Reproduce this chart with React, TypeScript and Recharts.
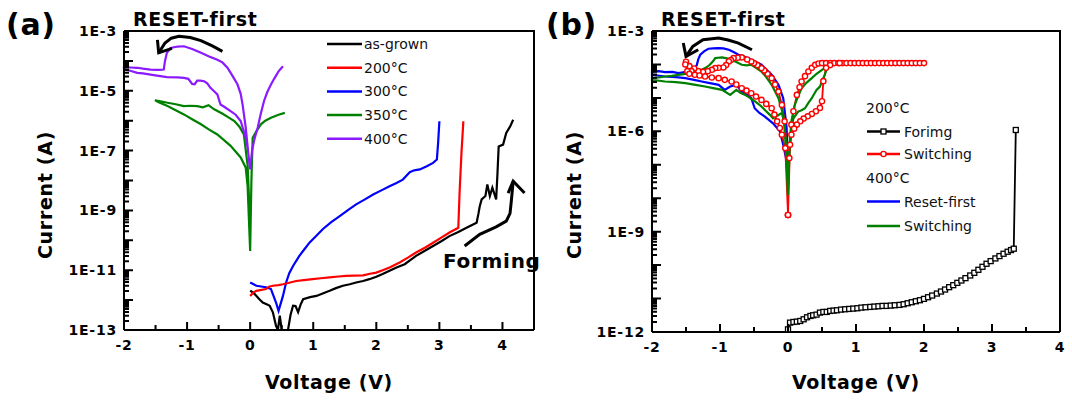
import { LineChart, Line, XAxis, YAxis } from 'recharts';

// all series: [voltage (V), log10 of current (A)]

// ---- panel (a) ----
const asGrown = [
  [0, -11.69], [0.05, -11.75], [0.1, -11.86], [0.15, -11.98], [0.2, -12.08], [0.27, -12.15], [0.31, -12.19],
  [0.36, -12.41], [0.41, -12.86], [0.44, -13], [0.47, -12.52], [0.5, -13], [0.6, -13], [0.64, -12.5],
  [0.68, -12.19], [0.72, -12.2], [0.76, -12.4], [0.8, -12.15], [0.84, -11.97], [0.95, -11.9], [1.05, -11.86],
  [1.15, -11.78], [1.26, -11.69], [1.36, -11.6], [1.47, -11.52], [1.58, -11.47], [1.68, -11.41], [1.79, -11.36],
  [1.89, -11.3], [2.0, -11.22], [2.1, -11.13], [2.21, -11.02], [2.32, -10.91], [2.45, -10.8], [2.63, -10.52],
  [2.77, -10.35], [2.9, -10.19], [3.03, -10.03], [3.16, -9.86], [3.3, -9.72], [3.43, -9.58], [3.59, -9.41],
  [3.62, -9.1], [3.64, -8.86], [3.67, -8.63], [3.73, -8.52], [3.76, -8.13], [3.8, -8.52], [3.84, -8.24],
  [3.9, -8.63], [3.92, -7.8], [3.94, -6.86], [4.01, -6.8], [4.06, -6.41], [4.12, -6.2], [4.17, -5.97],
];

const ann200 = [
  [0, -11.86], [0.05, -11.75], [0.1, -11.69], [0.18, -11.66], [0.25, -11.63], [0.3, -11.55], [0.36, -11.52],
  [0.45, -11.5], [0.52, -11.47], [0.62, -11.42], [0.73, -11.36], [0.85, -11.33], [0.99, -11.3], [1.12, -11.27],
  [1.26, -11.24], [1.4, -11.21], [1.52, -11.19], [1.65, -11.18], [1.79, -11.17], [1.9, -11.12], [2.0, -11.08],
  [2.1, -11.0], [2.21, -10.91], [2.37, -10.74], [2.5, -10.58], [2.63, -10.41], [2.77, -10.25], [2.9, -10.08],
  [3.03, -9.91], [3.16, -9.74], [3.3, -9.58], [3.32, -8.41], [3.35, -7.08], [3.38, -6.02],
];

const ann300 = [
  [0, -11.41], [0.1, -11.52], [0.25, -11.57], [0.33, -11.63], [0.41, -12.08], [0.45, -12.36], [0.52, -11.86],
  [0.57, -11.41], [0.62, -11.1], [0.68, -10.86], [0.78, -10.52], [0.86, -10.3], [0.94, -10.08], [1.05, -9.85],
  [1.15, -9.63], [1.28, -9.4], [1.42, -9.19], [1.55, -8.99], [1.68, -8.8], [1.82, -8.63], [1.95, -8.47],
  [2.08, -8.33], [2.21, -8.19], [2.32, -8.08], [2.42, -7.97], [2.53, -7.72], [2.6, -7.66], [2.69, -7.63],
  [2.8, -7.52], [2.9, -7.41], [2.96, -7.3], [2.98, -6.74], [3.0, -6.02],
];

const ann350 = [
  [0.55, -5.74], [0.45, -5.8], [0.33, -5.9], [0.24, -6.0], [0.17, -6.12], [0.1, -6.35], [0.04, -6.57],
  [0.02, -8], [0, -10.36], [-0.04, -8.2], [-0.07, -7.57], [-0.15, -7.23], [-0.31, -6.84], [-0.52, -6.46],
  [-0.65, -6.3], [-0.78, -6.12], [-0.92, -5.95], [-1.05, -5.79], [-1.18, -5.65], [-1.31, -5.51], [-1.45, -5.38],
  [-1.51, -5.32], [-1.42, -5.35], [-1.31, -5.4], [-1.18, -5.45], [-1.05, -5.51], [-0.95, -5.5], [-0.84, -5.51],
  [-0.75, -5.55], [-0.66, -5.48], [-0.57, -5.62], [-0.45, -5.75], [-0.35, -5.88], [-0.25, -6.01], [-0.17, -6.2],
  [-0.1, -6.46], [-0.04, -7.5], [0, -9.5],
];

const ann400 = [
  [0.52, -4.18], [0.45, -4.35], [0.38, -4.6], [0.33, -4.79], [0.27, -5.05], [0.22, -5.34], [0.17, -5.75],
  [0.12, -6.23], [0.07, -6.6], [0.03, -7.0], [0, -7.63], [-0.04, -6.9], [-0.07, -6.57], [-0.15, -6.01],
  [-0.23, -5.8], [-0.31, -5.68], [-0.4, -5.55], [-0.47, -5.46], [-0.52, -5.12], [-0.58, -5.0], [-0.63, -4.9],
  [-0.68, -4.75], [-0.73, -4.68], [-0.79, -4.66], [-0.84, -4.66], [-0.88, -4.78], [-0.92, -4.77], [-0.98, -4.6],
  [-1.05, -4.57], [-1.15, -4.55], [-1.32, -4.54], [-1.45, -4.5], [-1.58, -4.46], [-1.7, -4.42], [-1.79, -4.4],
  [-1.9, -4.33], [-2, -4.29], [-2, -4.21], [-1.9, -4.22], [-1.79, -4.23], [-1.7, -4.26], [-1.58, -4.29],
  [-1.45, -4.3], [-1.37, -4.29], [-1.35, -4.0], [-1.32, -3.73], [-1.26, -3.57], [-1.15, -3.52], [-1.05, -3.51],
  [-0.92, -3.6], [-0.78, -3.73], [-0.65, -3.85], [-0.52, -3.96], [-0.44, -4.05], [-0.36, -4.23], [-0.28, -4.5],
  [-0.2, -4.79], [-0.15, -5.1], [-0.12, -5.46], [-0.07, -6.23], [-0.02, -7.3], [0, -7.63],
];

const arrowA = [[-0.44, -3.68], [-0.6, -3.5], [-0.78, -3.32], [-0.95, -3.22], [-1.13, -3.18], [-1.25, -3.24], [-1.35, -3.4], [-1.45, -3.73]];
const arrowAHead = [[-1.47, -3.3], [-1.45, -3.73], [-1.24, -3.58]];
const arrowForm = [[3.4, -10.19], [3.64, -9.8], [3.9, -9.55], [4.06, -9.36], [4.12, -9.1], [4.14, -8.7], [4.17, -8.02]];
const arrowFormHead = [[4.09, -8.42], [4.17, -8.02], [4.35, -8.42]];

// ---- panel (b) ----
const forming200 = [
  [0, -11.92], [0.03, -11.72], [0.08, -11.7], [0.13, -11.69], [0.18, -11.67], [0.23, -11.62], [0.28, -11.56],
  [0.33, -11.52], [0.37, -11.5], [0.42, -11.48], [0.47, -11.42], [0.52, -11.4], [0.57, -11.4], [0.62, -11.37],
  [0.67, -11.36], [0.72, -11.35], [0.78, -11.33], [0.84, -11.32], [0.9, -11.31], [0.96, -11.3], [1.02, -11.29],
  [1.08, -11.27], [1.14, -11.26], [1.21, -11.25], [1.27, -11.24], [1.33, -11.23], [1.39, -11.22], [1.45, -11.22],
  [1.51, -11.21], [1.57, -11.2], [1.64, -11.19], [1.7, -11.17], [1.76, -11.14], [1.82, -11.11], [1.88, -11.08],
  [1.94, -11.05], [2.0, -11.01], [2.06, -10.96], [2.12, -10.91], [2.19, -10.85], [2.25, -10.79], [2.31, -10.73],
  [2.37, -10.66], [2.43, -10.6], [2.49, -10.53], [2.55, -10.46], [2.61, -10.39], [2.68, -10.31], [2.74, -10.23],
  [2.8, -10.14], [2.86, -10.05], [2.92, -9.96], [2.98, -9.88], [3.05, -9.8], [3.11, -9.73], [3.17, -9.66],
  [3.23, -9.6], [3.28, -9.55], [3.32, -9.51], [3.35, -5.96],
];

const switch200 = [
  [0, -8.5], [-0.02, -6.5], [-0.05, -5.7], [-0.09, -5.21], [-0.14, -4.81], [-0.19, -4.6], [-0.24, -4.41],
  [-0.3, -4.28], [-0.35, -4.18], [-0.39, -4.11], [-0.45, -4.02], [-0.5, -3.96], [-0.54, -3.91], [-0.6, -3.85],
  [-0.68, -3.79], [-0.74, -3.8], [-0.8, -3.81], [-0.84, -3.87], [-0.87, -3.91], [-0.91, -4.02], [-0.95, -4.09],
  [-1.02, -4.1], [-1.07, -4.11], [-1.12, -4.16], [-1.18, -4.2], [-1.25, -4.22], [-1.32, -4.2], [-1.38, -4.12],
  [-1.42, -4.2], [-1.45, -4.05], [-1.48, -4.2], [-1.5, -3.92], [-1.51, -4.0],
  [-1.45, -4.28], [-1.37, -4.31], [-1.3, -4.33], [-1.22, -4.36], [-1.12, -4.39], [-1.02, -4.41], [-0.93, -4.46],
  [-0.83, -4.51], [-0.76, -4.6], [-0.68, -4.71], [-0.61, -4.78], [-0.54, -4.86], [-0.47, -4.96], [-0.39, -5.06],
  [-0.32, -5.18], [-0.24, -5.31], [-0.2, -5.5], [-0.16, -5.7], [-0.12, -5.9], [-0.09, -6.1], [-0.04, -6.5],
  [0, -8.5], [0.03, -6.4], [0.05, -5.8], [0.08, -5.4], [0.13, -4.91], [0.17, -4.68], [0.2, -4.51], [0.25, -4.35],
  [0.3, -4.21], [0.35, -4.1], [0.4, -4.01], [0.45, -3.97], [0.5, -3.96], [0.56, -3.96], [0.62, -3.96],
  [0.68, -3.96], [0.74, -3.96], [0.8, -3.96], [0.86, -3.96], [0.92, -3.96], [0.98, -3.96], [1.04, -3.96],
  [1.1, -3.96], [1.16, -3.96], [1.22, -3.96], [1.28, -3.96], [1.34, -3.96], [1.4, -3.96], [1.46, -3.96],
  [1.52, -3.96], [1.58, -3.96], [1.64, -3.96], [1.7, -3.96], [1.76, -3.96], [1.82, -3.96], [1.88, -3.96],
  [1.94, -3.96], [2.0, -3.96], [0.76, -3.96], [0.62, -4.02], [0.56, -4.1], [0.52, -4.5], [0.5, -5.1],
  [0.47, -5.3], [0.41, -5.4], [0.35, -5.48], [0.29, -5.55], [0.23, -5.62], [0.18, -5.7], [0.13, -5.8],
  [0.09, -5.92], [0.05, -6.1], [0.02, -6.8], [0, -8.5],
];

const reset400 = [
  [0, -7.2], [-0.02, -5.9], [-0.07, -5.01], [-0.14, -4.61], [-0.24, -4.31], [-0.32, -4.15], [-0.39, -4.01],
  [-0.47, -3.93], [-0.54, -3.86], [-0.63, -3.78], [-0.73, -3.71], [-0.8, -3.63], [-0.87, -3.56], [-0.95, -3.52],
  [-1.02, -3.51], [-1.1, -3.52], [-1.17, -3.53], [-1.23, -3.6], [-1.29, -3.71], [-1.32, -3.85], [-1.34, -4.01],
  [-1.38, -4.15], [-1.41, -4.21], [-1.5, -4.22], [-1.61, -4.26], [-1.7, -4.22], [-1.81, -4.23], [-1.9, -4.2],
  [-2, -4.21], [-2, -4.31], [-1.81, -4.36], [-1.65, -4.38], [-1.51, -4.41], [-1.38, -4.46], [-1.27, -4.51],
  [-1.15, -4.56], [-1.02, -4.61], [-0.93, -4.76], [-0.85, -4.66], [-0.76, -4.61], [-0.68, -4.81], [-0.6, -4.9],
  [-0.54, -5.01], [-0.49, -5.31], [-0.42, -5.45], [-0.34, -5.56], [-0.22, -5.76], [-0.12, -6.0], [-0.07, -6.4],
  [-0.03, -6.8], [0, -7.2],
];

const switch400 = [
  [0, -7.91], [-0.03, -6.3], [-0.07, -5.51], [-0.14, -5.01], [-0.24, -4.61], [-0.32, -4.38], [-0.39, -4.21],
  [-0.47, -4.1], [-0.54, -4.01], [-0.61, -4.03], [-0.68, -4.01], [-0.76, -3.93], [-0.83, -3.86], [-0.9, -3.82],
  [-0.97, -3.79], [-1.03, -3.8], [-1.07, -3.81], [-1.1, -3.9], [-1.15, -4.01], [-1.21, -4.1], [-1.27, -4.16],
  [-1.34, -4.22], [-1.41, -4.26], [-1.51, -4.28], [-1.61, -4.31], [-1.71, -4.34], [-1.81, -4.36], [-1.9, -4.39],
  [-2, -4.41], [-2, -4.46], [-1.81, -4.51], [-1.65, -4.53], [-1.51, -4.56], [-1.36, -4.61], [-1.22, -4.66],
  [-1.1, -4.71], [-0.97, -4.76], [-0.85, -4.91], [-0.76, -4.76], [-0.7, -4.85], [-0.63, -4.91], [-0.56, -5.0],
  [-0.49, -5.1], [-0.41, -5.22], [-0.34, -5.36], [-0.27, -5.5], [-0.22, -5.61], [-0.14, -5.51], [-0.09, -5.45],
  [-0.06, -5.7], [-0.03, -6.5], [0, -7.91], [0.02, -6.5], [0.05, -5.7], [0.1, -5.21], [0.15, -4.95],
  [0.2, -4.71], [0.27, -4.55], [0.35, -4.41], [0.42, -4.28], [0.5, -4.16], [0.56, -4.08], [0.62, -4.01],
  [0.68, -3.97], [0.74, -3.95], [2.0, -3.95], [2.0, -3.96], [0.8, -3.96], [0.7, -3.98], [0.62, -4.02],
  [0.59, -4.06], [0.56, -4.2], [0.54, -4.31], [0.5, -4.5], [0.47, -4.66], [0.42, -4.76], [0.38, -4.9],
  [0.35, -5.01], [0.3, -5.15], [0.25, -5.31], [0.2, -5.37], [0.15, -5.41], [0.08, -5.61], [0.03, -6.1], [0, -7.91],
];

const arrowB = [[-0.53, -3.56], [-0.73, -3.36], [-0.88, -3.27], [-1.02, -3.21], [-1.25, -3.26], [-1.4, -3.46], [-1.5, -3.76]];
const arrowBHead = [[-1.54, -3.36], [-1.5, -3.76], [-1.32, -3.56]];

// ticks
const xTicksA = [-2, -1.5, -1, -0.5, 0, 0.5, 1, 1.5, 2, 2.5, 3, 3.5, 4];
const xTicksB = [-2, -1.5, -1, -0.5, 0, 0.5, 1, 1.5, 2, 2.5, 3, 3.5, 4];
const xLabels = [-2, -1, 0, 1, 2, 3, 4];
const yLabelExpA = [-3, -5, -7, -9, -11, -13];
const yLabelExpB = [-3, -6, -9, -12];

const legendA = [
  { name: 'as-grown', color: '#000000' },
  { name: '200°C', color: '#ff0000' },
  { name: '300°C', color: '#0000ff' },
  { name: '350°C', color: '#008000' },
  { name: '400°C', color: '#8b1aff' },
];

const toPts = (arr: number[][]) => arr.map(([x, e]) => ({ x, y: Math.pow(10, e) }));

function logTicks(lo: number, hi: number) {
  const t: number[] = [];
  for (let e = lo; e < hi; e++) for (let m = 1; m < 10; m++) t.push(m * Math.pow(10, e));
  t.push(Math.pow(10, hi));
  return t;
}

// plot boxes (same numbers as the chart sizes/margins below)
const boxA = { l: 124, r: 534, t: 31, b: 330, x0: -2, x1: 4.5, e0: -13, e1: -3 };
const boxB = { l: 652, r: 1060, t: 31, b: 332, x0: -2, x1: 4, e0: -12, e1: -3 };

// inward tick marks along the bottom and left of a plot box
function frameTicks(bx: typeof boxA, xt: number[]) {
  const sx = (v: number) => bx.l + ((v - bx.x0) / (bx.x1 - bx.x0)) * (bx.r - bx.l);
  const sy = (v: number) => bx.b - ((Math.log10(v) - bx.e0) / (bx.e1 - bx.e0)) * (bx.b - bx.t);
  let d = '';
  xt.forEach((v) => {
    const len = xLabels.includes(v) ? 8 : 5;
    d += `M${sx(v)},${bx.b}V${bx.b - len}`;
  });
  logTicks(bx.e0, bx.e1).forEach((v) => {
    const e = Math.floor(Math.log10(v) + 1e-6);
    const major = Math.round(v / Math.pow(10, e)) === 1;
    d += `M${bx.l},${sy(v)}H${bx.l + (major ? 9 : 5)}`;
  });
  return d;
}

const tickFont = { fontFamily: 'DejaVu Sans', fontWeight: 'bold', fontSize: 14, letterSpacing: 0.8, fill: '#000' } as const;
const labelFont = { fontFamily: 'DejaVu Sans', fontWeight: 'bold', fontSize: 19, letterSpacing: 0.7, fill: '#000' } as const;
const legFont = { fontFamily: 'DejaVu Sans', fontSize: 14, fill: '#111' } as const;

// tickSize/tickMargin are 0, so the renderer gets the point on the axis line itself
const makeYTick = (labels: number[]) => (p: any) => {
  const v = p.payload.value;
  const e = Math.floor(Math.log10(v) + 1e-6);
  const m = Math.round(v / Math.pow(10, e));
  const major = m === 1;
  return (
    <g>
      {major && labels.includes(e) && (
        <text x={p.x - 7} y={p.y + 5} textAnchor="end" style={tickFont}>{`1E${e}`}</text>
      )}
    </g>
  );
};

const makeXTick = (labels: number[]) => (p: any) => {
  const v = p.payload.value;
  const major = labels.includes(v);
  return (
    <g>
      {major && (
        <text x={p.x} y={p.y + 20} textAnchor="middle" style={tickFont}>{String(v)}</text>
      )}
    </g>
  );
};

const squareDot = (p: any) => (
  <rect key={p.index} x={p.cx - 2.5} y={p.cy - 2.5} width={5} height={5} fill="#fff" stroke="#000" strokeWidth={1.3} />
);

const al = { stroke: '#000', strokeWidth: 2 };

function App() {
  return (
    <div>
      <div style={{ position: 'absolute', left: 0, top: 0 }}>
        <LineChart width={560} height={401} margin={{ top: 31, right: 26, bottom: 0, left: 0 }}>
          <XAxis dataKey="x" type="number" domain={[-2, 4.5]} ticks={xTicksA} interval={0}
            axisLine={al} tickLine={false} tickSize={0} tickMargin={0} height={71} tick={makeXTick(xLabels)} />
          <YAxis type="number" scale="log" domain={[1e-13, 1e-3]} ticks={logTicks(-13, -3)} interval={0} allowDataOverflow
            axisLine={al} tickLine={false} tickSize={0} tickMargin={0} width={124} tick={makeYTick(yLabelExpA)} />
          <Line data={toPts(ann350)} dataKey="y" stroke="#008000" strokeWidth={2.2} dot={false} isAnimationActive={false} />
          <Line data={toPts(ann400)} dataKey="y" stroke="#8b1aff" strokeWidth={2.2} dot={false} isAnimationActive={false} />
          <Line data={toPts(asGrown)} dataKey="y" stroke="#000" strokeWidth={2.2} dot={false} isAnimationActive={false} />
          <Line data={toPts(ann300)} dataKey="y" stroke="#0000ff" strokeWidth={2.2} dot={false} isAnimationActive={false} />
          <Line data={toPts(ann200)} dataKey="y" stroke="#ff0000" strokeWidth={2.2} dot={false} isAnimationActive={false} />
          <Line data={toPts(arrowA)} dataKey="y" stroke="#000" strokeWidth={3} dot={false} isAnimationActive={false} />
          <Line data={toPts(arrowAHead)} dataKey="y" stroke="#000" strokeWidth={3} dot={false} isAnimationActive={false} />
          <Line data={toPts(arrowForm)} dataKey="y" stroke="#000" strokeWidth={3} dot={false} isAnimationActive={false} />
          <Line data={toPts(arrowFormHead)} dataKey="y" stroke="#000" strokeWidth={3} dot={false} isAnimationActive={false} />
        </LineChart>
      </div>
      <div style={{ position: 'absolute', left: 540, top: 0 }}>
        <LineChart width={532} height={401} margin={{ top: 31, right: 12, bottom: 0, left: 0 }}>
          <XAxis dataKey="x" type="number" domain={[-2, 4]} ticks={xTicksB} interval={0}
            axisLine={al} tickLine={false} tickSize={0} tickMargin={0} height={69} tick={makeXTick(xLabels)} />
          <YAxis type="number" scale="log" domain={[1e-12, 1e-3]} ticks={logTicks(-12, -3)} interval={0} allowDataOverflow
            axisLine={al} tickLine={false} tickSize={0} tickMargin={0} width={112} tick={makeYTick(yLabelExpB)} />
          <Line data={toPts(reset400)} dataKey="y" stroke="#0000ff" strokeWidth={2.2} dot={false} isAnimationActive={false} />
          <Line data={toPts(switch200)} dataKey="y" stroke="#ff0000" strokeWidth={1.8}
            dot={{ r: 2.6, fill: '#fff', stroke: '#ff0000', strokeWidth: 1.4 }} isAnimationActive={false} />
          <Line data={toPts(switch400)} dataKey="y" stroke="#008000" strokeWidth={2.2} dot={false} isAnimationActive={false} />
          <Line data={toPts(forming200)} dataKey="y" stroke="#000" strokeWidth={1.8} dot={squareDot} isAnimationActive={false} />
          <Line data={toPts(arrowB)} dataKey="y" stroke="#000" strokeWidth={3} dot={false} isAnimationActive={false} />
          <Line data={toPts(arrowBHead)} dataKey="y" stroke="#000" strokeWidth={3} dot={false} isAnimationActive={false} />
        </LineChart>
      </div>
      <svg width={1072} height={401} style={{ position: 'absolute', left: 0, top: 0, pointerEvents: 'none' }}>
        {/* top and right sides of the plot frames, plus inward ticks */}
        <path d={`M${boxA.l},${boxA.t}H${boxA.r}V${boxA.b}`} stroke="#000" strokeWidth={2} fill="none" />
        <path d={`M${boxB.l},${boxB.t}H${boxB.r}V${boxB.b}`} stroke="#000" strokeWidth={2} fill="none" />
        <path d={frameTicks(boxA, xTicksA)} stroke="#000" strokeWidth={2} fill="none" />
        <path d={frameTicks(boxB, xTicksB)} stroke="#000" strokeWidth={2} fill="none" />
        {/* panel (a) */}
        <text x={6} y={35} style={{ ...labelFont, fontSize: 30 }}>(a)</text>
        <text x={133} y={26} style={labelFont}>RESET-first</text>
        <text transform="translate(52,195) rotate(-90)" textAnchor="middle" style={labelFont}>Current (A)</text>
        <text x={329} y={389} textAnchor="middle" style={labelFont}>Voltage (V)</text>
        <text x={443} y={268} style={{ ...labelFont, fontSize: 20 }}>Forming</text>
        {legendA.map((d, i) => {
          const y = 44 + i * 23.7;
          return (
            <g key={d.name}>
              <line x1={327} x2={362} y1={y} y2={y} stroke={d.color} strokeWidth={2.5} />
              <text x={364} y={y + 5} style={legFont}>{d.name}</text>
            </g>
          );
        })}
        {/* panel (b) */}
        <text x={546} y={35} style={{ ...labelFont, fontSize: 30 }}>(b)</text>
        <text x={661} y={26} style={labelFont}>RESET-first</text>
        <text transform="translate(581,195) rotate(-90)" textAnchor="middle" style={labelFont}>Current (A)</text>
        <text x={856} y={389} textAnchor="middle" style={labelFont}>Voltage (V)</text>
        <text x={866} y={113} style={legFont}>200°C</text>
        <line x1={867} x2={900} y1={131.5} y2={131.5} stroke="#000" strokeWidth={2.5} />
        <rect x={881} y={129} width={5} height={5} fill="#fff" stroke="#000" strokeWidth={1.3} />
        <text x={904} y={136.5} style={legFont}>Forimg</text>
        <line x1={867} x2={900} y1={154} y2={154} stroke="#ff0000" strokeWidth={2.5} />
        <circle cx={883.5} cy={154} r={2.6} fill="#fff" stroke="#ff0000" strokeWidth={1.4} />
        <text x={904} y={159} style={legFont}>Switching</text>
        <text x={866} y={183} style={legFont}>400°C</text>
        <line x1={867} x2={900} y1={201.5} y2={201.5} stroke="#0000ff" strokeWidth={2.5} />
        <text x={904} y={206.5} style={legFont}>Reset-first</text>
        <line x1={867} x2={900} y1={226} y2={226} stroke="#008000" strokeWidth={2.5} />
        <text x={904} y={231} style={legFont}>Switching</text>
      </svg>
    </div>
  );
}

export default App;
